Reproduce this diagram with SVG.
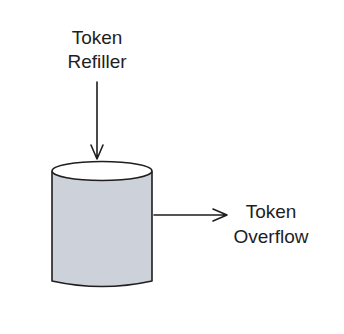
<svg xmlns="http://www.w3.org/2000/svg" width="344" height="334" viewBox="0 0 344 334">
<style>
.t{font-family:"Liberation Sans",Arial,sans-serif;font-size:19px;fill:#1e1e1e;text-anchor:middle}
.l{stroke:#1e1e1e;stroke-width:1.6;fill:none;stroke-linecap:round;stroke-linejoin:round}
.body{stroke:#1e1e1e;stroke-width:1.6;fill:#cdd2da;stroke-linejoin:round}
.top{stroke:#1e1e1e;stroke-width:1.6;fill:#ffffff}
</style>
<rect width="344" height="334" fill="#ffffff"/>
<g id="refiller"><text class="t" x="97" y="44">Token</text><text class="t" x="97" y="68">Refiller</text></g>
<g id="bucket">
<path class="body" d="M52,172 L52,281 Q102,292 152,281 L152,172 Z"/>
<ellipse class="top" cx="102" cy="171" rx="50" ry="9.5"/>
</g>
<g id="overflow"><text class="t" x="271" y="218">Token</text><text class="t" x="271" y="243">Overflow</text></g>
<g id="connectors">
<path class="l" d="M97,82 L97,159 M91,145 L97,159 L103,145"/>
<path class="l" d="M154,215 L227,215 M213,209 L227,215 L213,221"/>
</g>
</svg>
